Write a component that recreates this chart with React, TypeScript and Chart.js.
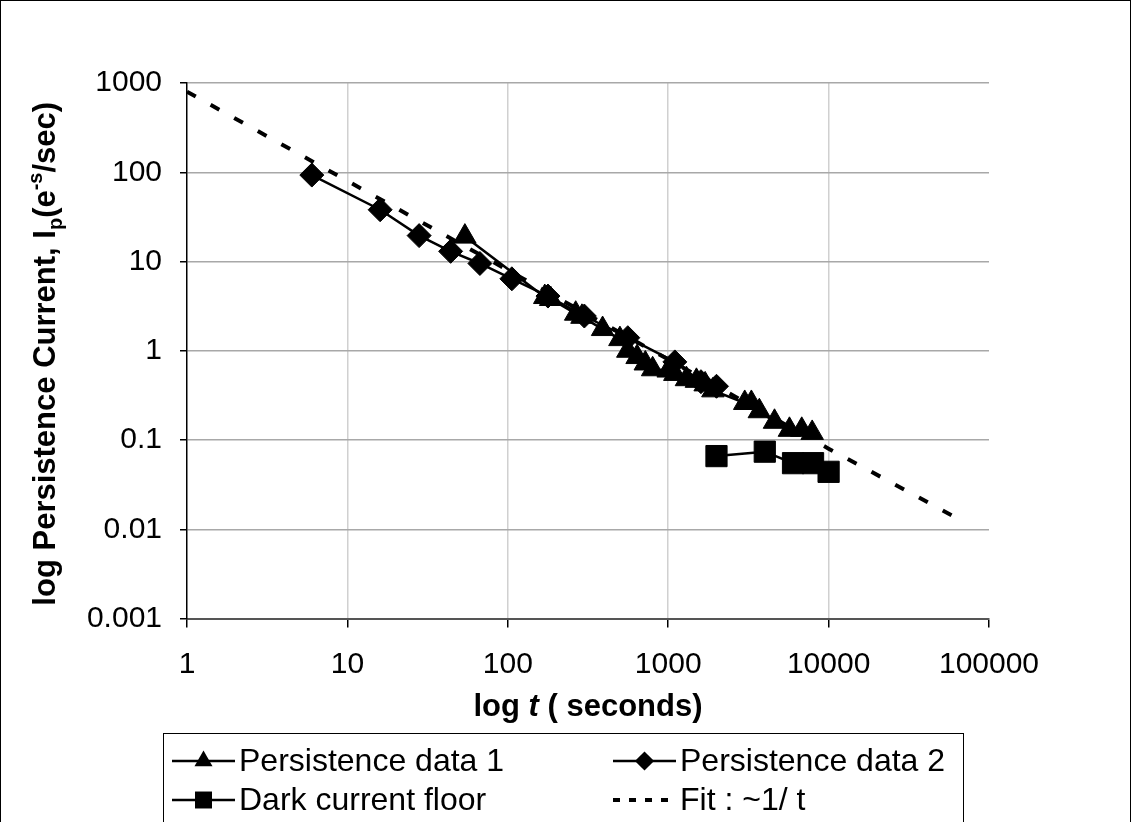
import React, { useEffect, useRef } from 'react';
import { Chart, registerables } from 'chart.js';

Chart.register(...registerables);

const FONT = '"Liberation Sans", Arial, Helvetica, sans-serif';

const xTickValues = [1, 10, 100, 1000, 10000, 100000];
const yTickValues = [0.001, 0.01, 0.1, 1, 10, 100, 1000];

const seriesLabels = ['Persistence data 1', 'Persistence data 2', 'Dark current floor', 'Fit : ~1/ t'];

const persist1Time = [54, 170, 185, 265, 290, 390, 500, 560, 640, 720, 800, 1000, 1100, 1300, 1500, 1700, 1900, 3000, 3300, 3700, 4600, 5700, 6800, 7900];
const persist1Current = [19, 4.0, 3.8, 2.6, 2.4, 1.75, 1.35, 1.0, 0.85, 0.72, 0.62, 0.6, 0.55, 0.48, 0.46, 0.42, 0.36, 0.26, 0.26, 0.21, 0.16, 0.13, 0.13, 0.12];

const persist2Time = [6, 16, 28, 44, 67, 106, 178, 300, 560, 1100, 1600, 2000];
const persist2Current = [93, 38, 19.5, 13, 9.5, 6.4, 4.1, 2.45, 1.4, 0.75, 0.45, 0.4];

const darkTime = [2000, 4000, 6000, 8000, 10000];
const darkCurrent = [0.066, 0.074, 0.055, 0.055, 0.044];

const fitTime = [1, 10, 100, 1000, 10000, 60000];
const fitCurrent = [800, 80, 8, 0.8, 0.08, 0.014];

const pts = (xs: number[], ys: number[]) => xs.map((x, i) => ({ x, y: ys[i] }));

function drawMarker(ctx: CanvasRenderingContext2D, style: string, x: number, y: number, r: number) {
  ctx.beginPath();
  if (style === 'triangle') {
    ctx.moveTo(x, y - r);
    ctx.lineTo(x + r * 0.866, y + r * 0.5);
    ctx.lineTo(x - r * 0.866, y + r * 0.5);
  } else if (style === 'rectRot') {
    ctx.moveTo(x, y - r);
    ctx.lineTo(x + r, y);
    ctx.lineTo(x, y + r);
    ctx.lineTo(x - r, y);
  } else if (style === 'rect') {
    const s = r * Math.SQRT1_2;
    ctx.rect(x - s, y - s, 2 * s, 2 * s);
  }
  ctx.closePath();
  ctx.fill();
}

const decorPlugin = {
  id: 'decor',
  afterDraw(chart: any) {
    const ctx: CanvasRenderingContext2D = chart.ctx;
    const area = chart.chartArea;
    ctx.save();
    ctx.strokeStyle = '#000';
    ctx.lineWidth = 1;
    ctx.strokeRect(0.5, 0.5, 1130, 900);

    const bold = `bold 31px ${FONT}`;
    const boldItalic = `italic bold 31px ${FONT}`;
    const xParts: [string, string][] = [['log ', bold], ['t', boldItalic], [' ( seconds)', bold]];
    let total = 0;
    xParts.forEach(([t, f]) => { ctx.font = f; total += ctx.measureText(t).width; });
    let cx = (area.left + area.right) / 2 - total / 2;
    ctx.fillStyle = '#000';
    ctx.textBaseline = 'alphabetic';
    ctx.textAlign = 'left';
    xParts.forEach(([t, f]) => { ctx.font = f; ctx.fillText(t, cx, 716); cx += ctx.measureText(t).width; });

    const small = `bold 20px ${FONT}`;
    const yParts: [string, string, number][] = [
      ['log Persistence Current, I', bold, 0],
      ['p', small, 7],
      ['(e', bold, 0],
      ['-s', small, -13],
      ['/sec)', bold, 0],
    ];
    total = 0;
    yParts.forEach(([t, f]) => { ctx.font = f; total += ctx.measureText(t).width; });
    ctx.save();
    ctx.translate(55, (area.top + area.bottom) / 2 + 3);
    ctx.rotate(-Math.PI / 2);
    let yx = -total / 2;
    yParts.forEach(([t, f, dy]) => { ctx.font = f; ctx.fillText(t, yx, dy); yx += ctx.measureText(t).width; });
    ctx.restore();

    ctx.lineWidth = 1;
    ctx.strokeStyle = '#000';
    ctx.strokeRect(163.5, 733.5, 800, 200);
    const cols = [172, 613];
    const rows = [761, 800];
    const symW = 63;
    chart.data.datasets.forEach((ds: any, i: number) => {
      const x0 = cols[i % 2];
      const y = rows[Math.floor(i / 2)];
      ctx.save();
      ctx.strokeStyle = ds.borderColor;
      ctx.lineWidth = ds.borderWidth;
      if (ds.borderDash) ctx.setLineDash([7, 9]);
      ctx.beginPath();
      ctx.moveTo(x0, y);
      ctx.lineTo(x0 + symW, y);
      ctx.stroke();
      ctx.restore();
      if (ds.pointRadius > 0) {
        ctx.fillStyle = ds.backgroundColor;
        drawMarker(ctx, ds.pointStyle, x0 + symW / 2, y, ds.pointRadius * 0.8);
      }
      ctx.fillStyle = '#000';
      ctx.font = `32px ${FONT}`;
      ctx.textBaseline = 'middle';
      ctx.fillText(ds.label, x0 + symW + 4, y + 1);
    });
    ctx.restore();
  },
};

export default function App() {
  const ref = useRef<HTMLCanvasElement | null>(null);
  useEffect(() => {
    document.body.style.margin = '0';
    const canvas = ref.current;
    if (!canvas) return;
    const mk = (label: string, xs: number[], ys: number[], style: string, r: number, extra: any = {}) => ({
      label,
      data: pts(xs, ys),
      showLine: true,
      borderColor: '#000',
      backgroundColor: '#000',
      borderWidth: 2.5,
      pointStyle: style,
      pointRadius: r,
      pointHoverRadius: r,
      pointBorderWidth: 1,
      pointBorderColor: '#000',
      tension: 0,
      ...extra,
    });
    const chart = new Chart(canvas, {
      type: 'scatter',
      data: {
        datasets: [
          mk(seriesLabels[0], persist1Time, persist1Current, 'triangle', 13),
          mk(seriesLabels[1], persist2Time, persist2Current, 'rectRot', 12),
          mk(seriesLabels[2], darkTime, darkCurrent, 'rect', 15),
          mk(seriesLabels[3], fitTime, fitCurrent, 'circle', 0, { borderWidth: 4, borderDash: [10, 17] }),
        ],
      },
      options: {
        responsive: false,
        animation: false,
        events: [],
        layout: { padding: { left: 0, right: 143, top: 83, bottom: 103.5 } },
        plugins: { legend: { display: false }, tooltip: { enabled: false }, title: { display: false } },
        scales: {
          x: {
            type: 'logarithmic',
            min: 1,
            max: 100000,
            afterBuildTicks: (s: any) => { s.ticks = xTickValues.map((v) => ({ value: v })); },
            afterFit: (s: any) => { s.height = 100; },
            ticks: {
              autoSkip: false,
              maxRotation: 0,
              color: '#000',
              font: { family: FONT, size: 30 },
              padding: 19,
              callback: (v: any) => String(v),
            },
            grid: {
              color: (c: any) => (c.index === 0 || c.index === xTickValues.length - 1 ? 'rgba(0,0,0,0)' : '#d0d0d0'),
              tickColor: '#000',
              tickLength: 9,
              lineWidth: 1.5,
            },
            border: { color: '#555', width: 2 },
          },
          y: {
            type: 'logarithmic',
            min: 0.001,
            max: 1000,
            afterBuildTicks: (s: any) => { s.ticks = yTickValues.map((v) => ({ value: v })); },
            afterFit: (s: any) => { s.width = 187; },
            ticks: {
              autoSkip: false,
              color: '#000',
              font: { family: FONT, size: 30 },
              padding: 18,
              callback: (v: any) => String(v),
            },
            grid: {
              color: (c: any) => (c.index === 0 ? 'rgba(0,0,0,0)' : '#a8a8a8'),
              tickColor: '#000',
              tickLength: 7,
              lineWidth: 1.5,
            },
            border: { color: '#000', width: 1.5 },
          },
        },
      },
      plugins: [decorPlugin],
    });
    return () => chart.destroy();
  }, []);
  return (
    <div style={{ width: 1132, height: 822, background: '#fff', position: 'relative' }}>
      <canvas ref={ref} width={1132} height={822} style={{ display: 'block' }} />
    </div>
  );
}
